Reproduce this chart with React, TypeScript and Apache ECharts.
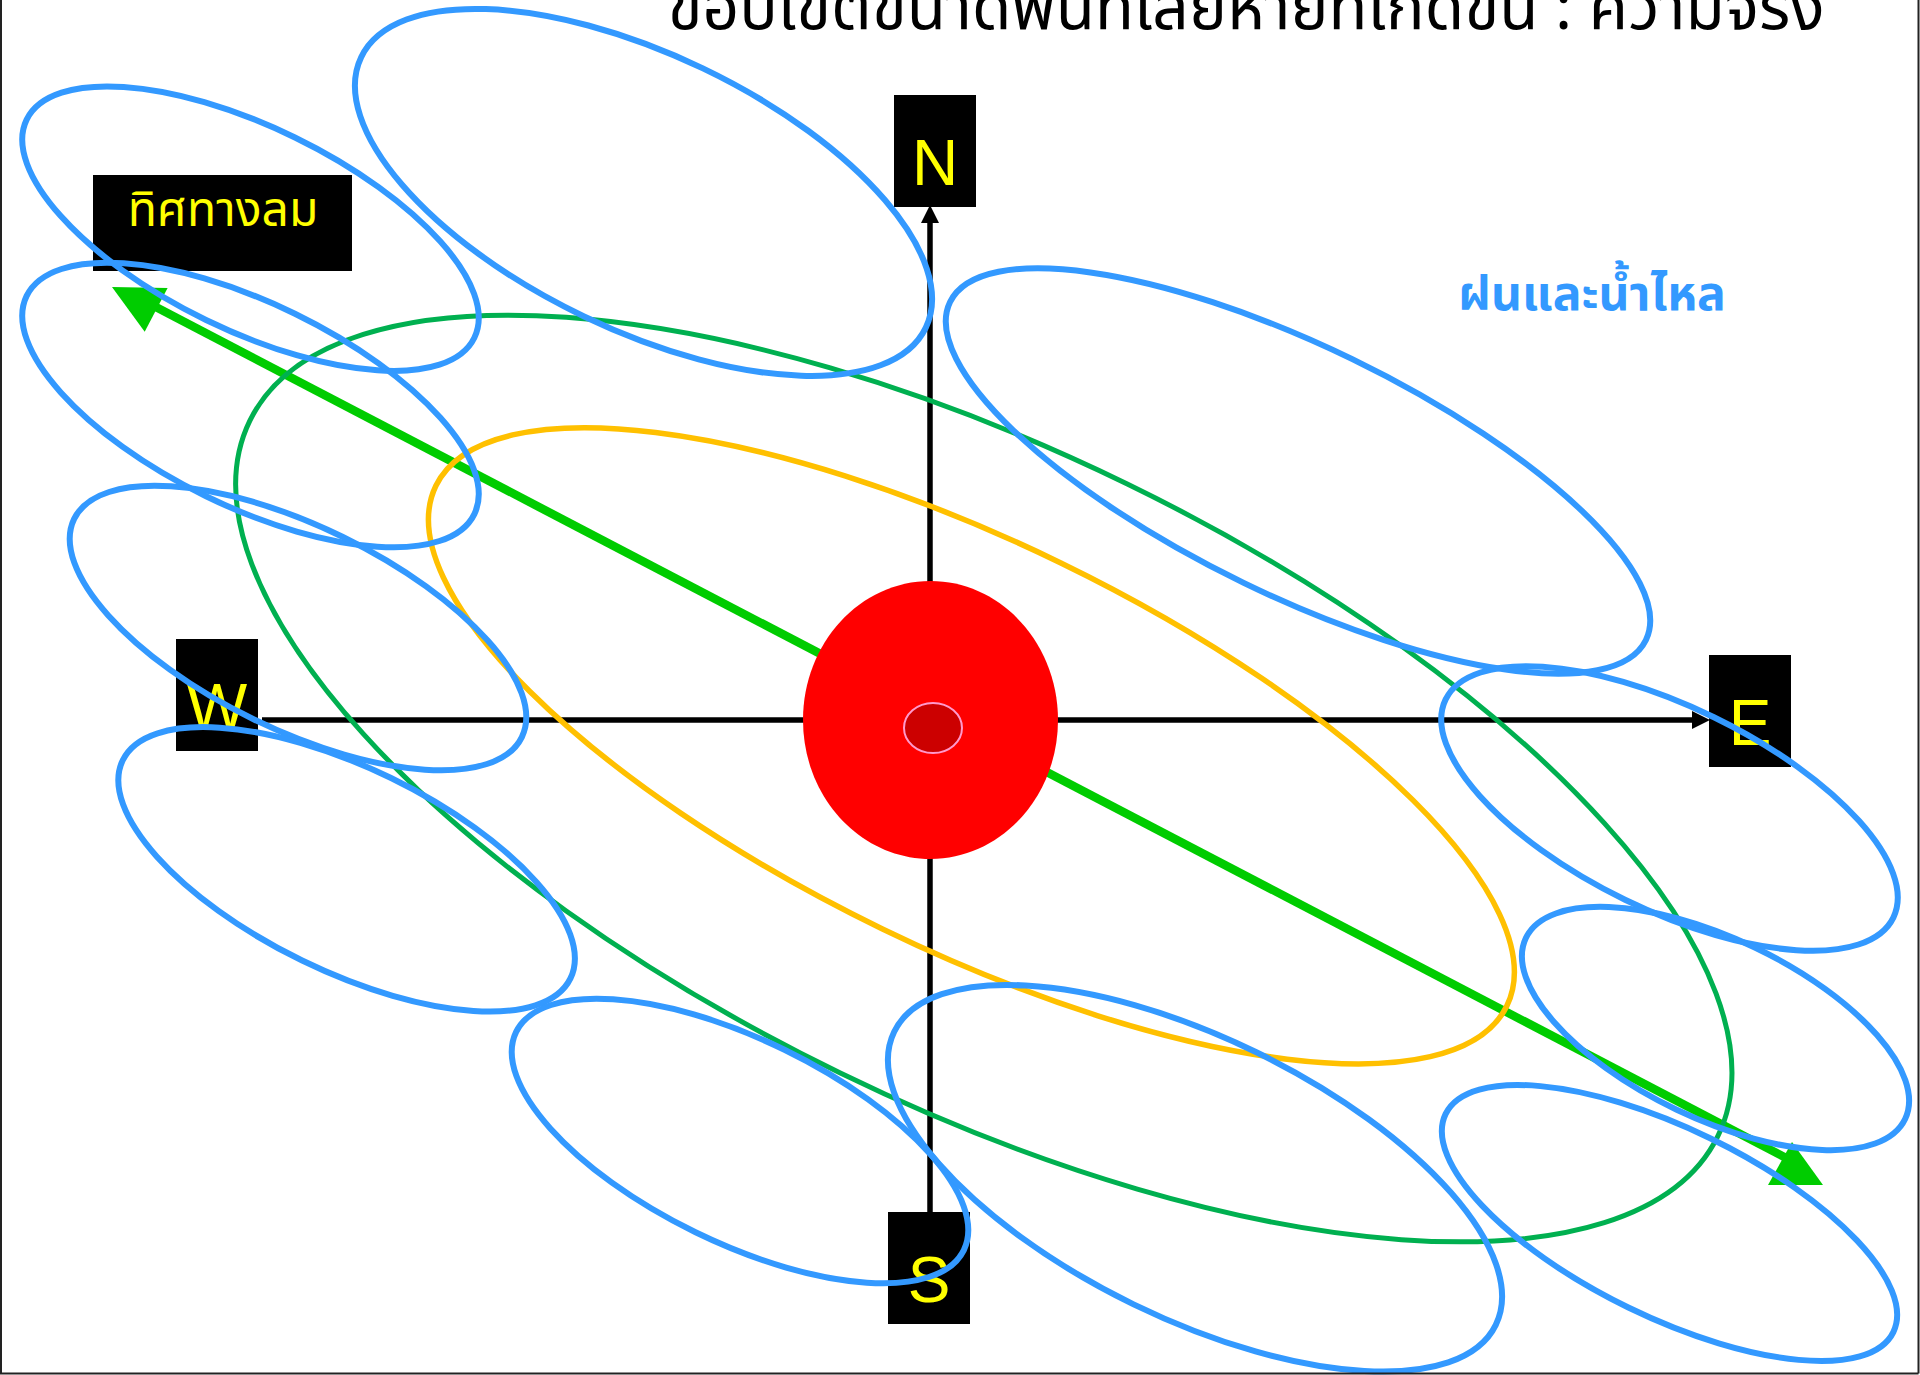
import React, { useEffect, useRef } from "react";
import * as echarts from "echarts";

const CANVAS_W = 1920;
const CANVAS_H = 1375;

// ---- texts ----
const titleText = "ขอบเขตขนาดพื้นที่เสียหายที่เกิดขึ้น : ความจริง";
const windLabel = "ทิศทางลม";
const rainLabel = "ฝนและน้ำไหล";

const THAI_FONT = "'Noto Sans Thai', 'Noto Sans Thai UI', 'Noto Sans Thai Looped', sans-serif";

// ---- compass labels (diagram coordinates, px of the 1920x1375 canvas) ----
const compassNames = ["N", "E", "S", "W"];
const compassBoxLeft = [894, 1709, 888, 176];
const compassBoxTop = [95, 655, 1212, 639];

// ---- axes ----
const axisNS = [930, 1212, 930, 212];
const axisWE = [262, 720, 1700, 720];
const arrowN = [[930, 205], [921, 223], [939, 223]];
const arrowE = [[1710, 720], [1692, 711], [1692, 729]];

// ---- wind arrow ----
const windLine = [152, 305, 1790, 1160];
const windHeadA = [[112, 287], [167.6, 288], [144.7, 331.7]];
const windHeadB = [[1768, 1185], [1823, 1185], [1792, 1142]];

// ---- ellipses: centre x, centre y, semi-major, semi-minor, tilt (deg, clockwise) ----
const blueCx = [250.5, 250.5, 298, 346.6, 740, 1669.5, 1669.5, 1715.5, 643.5, 1195, 1298];
const blueCy = [228.7, 405, 628, 869.3, 1141, 808.5, 1223, 1028.5, 192.4, 1178.3, 471];
const blueA = [249, 249, 249, 249, 249, 249, 249, 210, 313, 334.6, 386.6];
const blueB = [101.5, 101.5, 101.5, 101.5, 101.5, 101.5, 94, 90, 137.5, 140.2, 124.3];
const blueTilt = [26, 26, 26, 26, 26, 26, 26, 25.5, 25.6, 26, 25.9];

const greenCx = [983.8];
const greenCy = [778.5];
const greenA = [816.5];
const greenB = [327.6];
const greenTilt = [26];

const orangeCx = [971.4];
const orangeCy = [745.8];
const orangeA = [595];
const orangeB = [203.5];
const orangeTilt = [25.9];

// red centre: cx, cy, rx, ry
const redOuter = [930.5, 720, 127.5, 139];
const redInner = [933, 728, 29, 25];

function ellipseSeries(
  cx: number[], cy: number[], a: number[], b: number[], tilt: number[],
  style: any, z: number
) {
  return {
    type: "custom",
    coordinateSystem: "cartesian2d",
    z,
    silent: true,
    clip: false,
    data: cx.map((x, i) => [x, cy[i], a[i], b[i], tilt[i]]),
    renderItem: (_p: any, api: any) => {
      const c = api.coord([api.value(0), api.value(1)]);
      const s = api.size([api.value(2), api.value(3)]);
      return {
        type: "ellipse",
        x: c[0],
        y: c[1],
        rotation: (-api.value(4) * Math.PI) / 180,
        shape: { cx: 0, cy: 0, rx: s[0], ry: s[1] },
        style,
      };
    },
  };
}

export default function App() {
  const ref = useRef<HTMLDivElement>(null);

  useEffect(() => {
    document.body.style.margin = "0";
    if (!ref.current) return;
    const chart = echarts.init(ref.current, null, { renderer: "svg" });

    const single = (z: number, render: (api: any) => any) => ({
      type: "custom",
      coordinateSystem: "cartesian2d",
      z,
      silent: true,
      clip: false,
      data: [[0, 0]],
      renderItem: (_p: any, api: any) => render(api),
    });

    const pts = (api: any, arr: number[][]) => arr.map((p) => api.coord(p));

    const option: any = {
      animation: false,
      backgroundColor: "#ffffff",
      grid: { left: 0, right: 0, top: 0, bottom: 0, containLabel: false },
      xAxis: { type: "value", min: 0, max: CANVAS_W, show: false },
      yAxis: { type: "value", min: 0, max: CANVAS_H, inverse: true, show: false },
      series: [
        // axes
        single(1, (api) => {
          const a1 = api.coord([axisNS[0], axisNS[1]]);
          const a2 = api.coord([axisNS[2], axisNS[3]]);
          const b1 = api.coord([axisWE[0], axisWE[1]]);
          const b2 = api.coord([axisWE[2], axisWE[3]]);
          return {
            type: "group",
            children: [
              { type: "line", shape: { x1: a1[0], y1: a1[1], x2: a2[0], y2: a2[1] }, style: { stroke: "#000", lineWidth: 5.5 } },
              { type: "line", shape: { x1: b1[0], y1: b1[1], x2: b2[0], y2: b2[1] }, style: { stroke: "#000", lineWidth: 5.5 } },
              { type: "polygon", shape: { points: pts(api, arrowN) }, style: { fill: "#000" } },
              { type: "polygon", shape: { points: pts(api, arrowE) }, style: { fill: "#000" } },
            ],
          };
        }),
        // compass boxes
        {
          type: "custom",
          coordinateSystem: "cartesian2d",
          z: 2,
          silent: true,
          clip: false,
          data: compassNames.map((n, i) => [compassBoxLeft[i], compassBoxTop[i], n]),
          renderItem: (_p: any, api: any) => {
            const tl = api.coord([api.value(0), api.value(1)]);
            const sz = api.size([82, 112]);
            return {
              type: "group",
              children: [
                { type: "rect", shape: { x: tl[0], y: tl[1], width: sz[0], height: sz[1] }, style: { fill: "#000" } },
                {
                  type: "text",
                  x: tl[0] + sz[0] / 2,
                  y: tl[1] + 68,
                  style: {
                    text: String(api.value(2)),
                    fill: "#FFFF00",
                    fontSize: 64,
                    fontFamily: "Liberation Sans, Arial, sans-serif",
                    align: "center",
                    verticalAlign: "middle",
                  },
                },
              ],
            };
          },
        },
        // wind label box
        single(2, (api) => {
          const tl = api.coord([93, 175]);
          const br = api.coord([352, 271]);
          return {
            type: "group",
            children: [
              { type: "rect", shape: { x: tl[0], y: tl[1], width: br[0] - tl[0], height: br[1] - tl[1] }, style: { fill: "#000" } },
              {
                type: "text",
                x: (tl[0] + br[0]) / 2 + 0.5,
                y: tl[1] + 36,
                style: { text: windLabel, fill: "#FFFF00", fontSize: 48, fontFamily: THAI_FONT, align: "center", verticalAlign: "middle" },
              },
            ],
          };
        }),
        // title & rain label
        single(3, (api) => {
          const t = api.coord([1246, 9]);
          const r = api.coord([1592, 295]);
          return {
            type: "group",
            children: [
              {
                type: "text",
                x: t[0],
                y: t[1],
                style: { text: titleText, fill: "#000", fontSize: 64, fontFamily: THAI_FONT, align: "center", verticalAlign: "middle" },
              },
              {
                type: "text",
                x: r[0],
                y: r[1],
                style: { text: rainLabel, fill: "#3399FF", fontSize: 48, fontWeight: "bold", fontFamily: THAI_FONT, align: "center", verticalAlign: "middle" },
              },
            ],
          };
        }),
        // wind arrow
        single(4, (api) => {
          const p1 = api.coord([windLine[0], windLine[1]]);
          const p2 = api.coord([windLine[2], windLine[3]]);
          return {
            type: "group",
            children: [
              { type: "line", shape: { x1: p1[0], y1: p1[1], x2: p2[0], y2: p2[1] }, style: { stroke: "#00CC00", lineWidth: 8.5 } },
              { type: "polygon", shape: { points: pts(api, windHeadA) }, style: { fill: "#00CC00" } },
              { type: "polygon", shape: { points: pts(api, windHeadB) }, style: { fill: "#00CC00" } },
            ],
          };
        }),
        // red centre
        single(5, (api) => {
          const c1 = api.coord([redOuter[0], redOuter[1]]);
          const s1 = api.size([redOuter[2], redOuter[3]]);
          const c2 = api.coord([redInner[0], redInner[1]]);
          const s2 = api.size([redInner[2], redInner[3]]);
          return {
            type: "group",
            children: [
              { type: "ellipse", shape: { cx: c1[0], cy: c1[1], rx: s1[0], ry: s1[1] }, style: { fill: "#FF0000" } },
              { type: "ellipse", shape: { cx: c2[0], cy: c2[1], rx: s2[0], ry: s2[1] }, style: { fill: "#CC0000", stroke: "#FF99CC", lineWidth: 2 } },
            ],
          };
        }),
        ellipseSeries(orangeCx, orangeCy, orangeA, orangeB, orangeTilt, { fill: "none", stroke: "#FFC000", lineWidth: 5.5 }, 6),
        ellipseSeries(greenCx, greenCy, greenA, greenB, greenTilt, { fill: "none", stroke: "#00B050", lineWidth: 5 }, 6),
        ellipseSeries(blueCx, blueCy, blueA, blueB, blueTilt, { fill: "none", stroke: "#3399FF", lineWidth: 6 }, 7),
        // frame
        single(8, (api) => {
          const tl = api.coord([0, 0]);
          const br = api.coord([CANVAS_W, CANVAS_H]);
          return {
            type: "group",
            children: [
              { type: "line", shape: { x1: tl[0] + 1, y1: tl[1], x2: tl[0] + 1, y2: br[1] - 1.5 }, style: { stroke: "#222", lineWidth: 2 } },
              { type: "line", shape: { x1: br[0] - 1.5, y1: tl[1], x2: br[0] - 1.5, y2: br[1] - 1.5 }, style: { stroke: "#222", lineWidth: 2 } },
              { type: "line", shape: { x1: tl[0], y1: br[1] - 1.5, x2: br[0] - 1.5, y2: br[1] - 1.5 }, style: { stroke: "#222", lineWidth: 2 } },
            ],
          };
        }),
      ],
    };

    chart.setOption(option);
    return () => chart.dispose();
  }, []);

  return <div ref={ref} style={{ width: CANVAS_W + "px", height: CANVAS_H + "px" }} />;
}
